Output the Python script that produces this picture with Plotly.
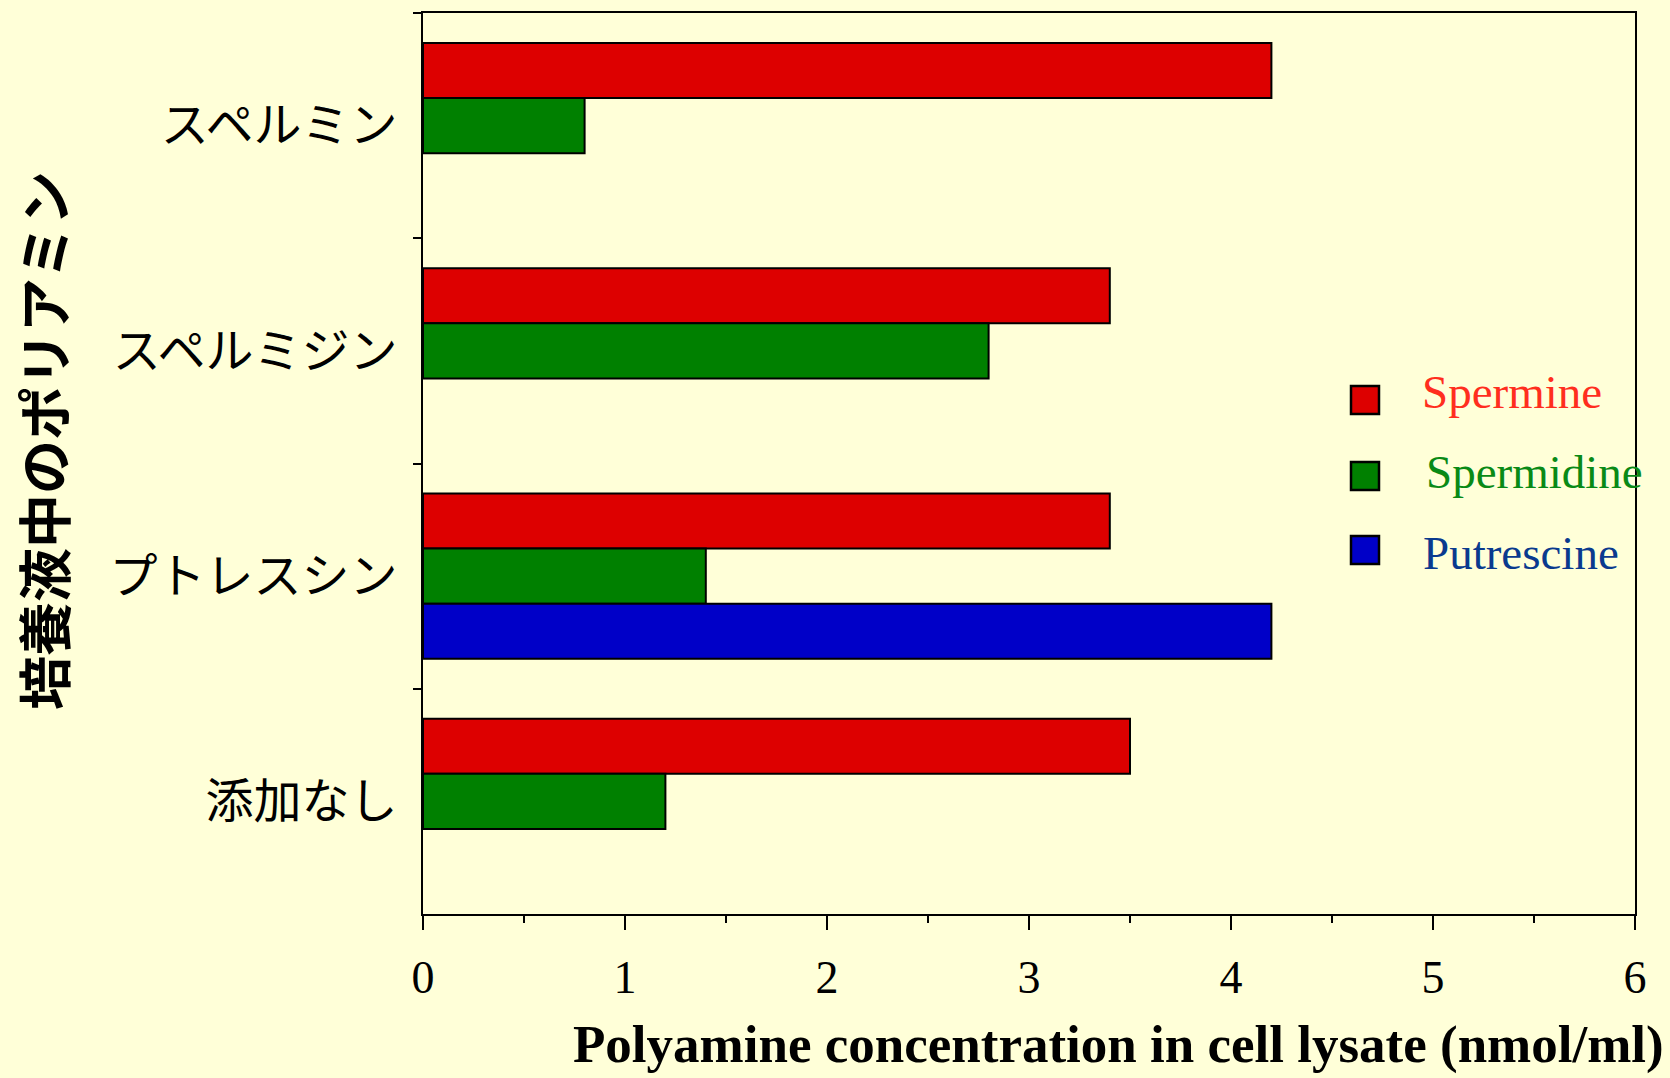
import plotly.graph_objects as go

categories = ["スペルミン", "スペルミジン", "プトレスシン", "添加なし"]
series_names = ["Spermine", "Spermidine", "Putrescine"]
spermine = [4.2, 3.4, 3.4, 3.5]
spermidine = [0.8, 2.8, 1.4, 1.2]
putrescine = [None, None, 4.2, None]
x_ticks = [0, 1, 2, 3, 4, 5, 6]

bar_colors = ["#DD0000", "#008000", "#0000C8"]
text_colors = ["#FF2E1E", "#098A16", "#0A3A8E"]
values = [spermine, spermidine, putrescine]

W, H = 1670, 1078
L, R, T, B = 423, 35, 13, 164
pw, ph = W - L - R, H - T - B

def px(xp):
    return (xp - L) / pw

def py(yp):
    return (H - B - yp) / ph

fig = go.Figure()
for name, vals, col in zip(series_names, values, bar_colors):
    fig.add_trace(go.Bar(
        y=categories, x=vals, name=name, orientation="h",
        marker=dict(color=col, line=dict(color="black", width=2)),
        showlegend=False,
    ))

# manual legend (large squares + coloured text)
leg_y = [400, 476, 550]
leg_ty = [392, 472, 553]
leg_tx = [1420, 1424, 1421]
for name, col, tcol, yy, ty, tx in zip(series_names, bar_colors, text_colors, leg_y, leg_ty, leg_tx):
    fig.add_shape(type="rect", xref="paper", yref="paper",
                  x0=px(1351), x1=px(1379), y0=py(yy + 14), y1=py(yy - 14),
                  fillcolor=col, line=dict(color="black", width=2.5))
    fig.add_annotation(text=name, xref="paper", yref="paper",
                       x=px(tx), y=py(ty), xanchor="left", yanchor="middle",
                       showarrow=False,
                       font=dict(family="Liberation Serif", size=47, color=tcol))

fig.add_annotation(text="<b>Polyamine concentration in cell lysate (nmol/ml)</b>",
                   xref="paper", yref="paper", x=px(1666), y=py(1044),
                   xanchor="right", yanchor="middle", showarrow=False,
                   font=dict(family="Liberation Serif", size=53, color="black"))

fig.add_annotation(text="<b>培養液中のポリアミン</b>", textangle=-90,
                   xref="paper", yref="paper", x=px(42), y=py(441),
                   xanchor="center", yanchor="middle", showarrow=False,
                   font=dict(family="Noto Sans CJK JP", size=54, color="black"))

fig.update_layout(
    width=W, height=H,
    margin=dict(l=L, r=R, t=T, b=B),
    paper_bgcolor="#FFFFD8", plot_bgcolor="#FFFFD8",
    barmode="group", bargap=0.267, bargroupgap=0,
    showlegend=False,
)
fig.update_xaxes(
    range=[0, 6], tickvals=x_ticks, ticks="outside", ticklen=14, tickwidth=2,
    tickcolor="black", showline=True, linecolor="black", linewidth=2,
    mirror=True, showgrid=False, zeroline=False,
    tickfont=dict(family="Liberation Serif", size=46, color="black"),
    ticklabelstandoff=8,
    minor=dict(dtick=0.5, ticks="outside", ticklen=7, tickwidth=2, tickcolor="black", showgrid=False),
)
fig.update_yaxes(
    type="category", categoryorder="array", categoryarray=categories,
    autorange="reversed", tickson="boundaries", ticks="outside", ticklen=8,
    tickwidth=2, tickcolor="black", showline=True, linecolor="black",
    linewidth=2, mirror=True, showgrid=False, zeroline=False,
    tickfont=dict(family="Noto Sans CJK JP", size=48, color="black"),
    ticklabelstandoff=14,
)

fig.write_html("out.html")
